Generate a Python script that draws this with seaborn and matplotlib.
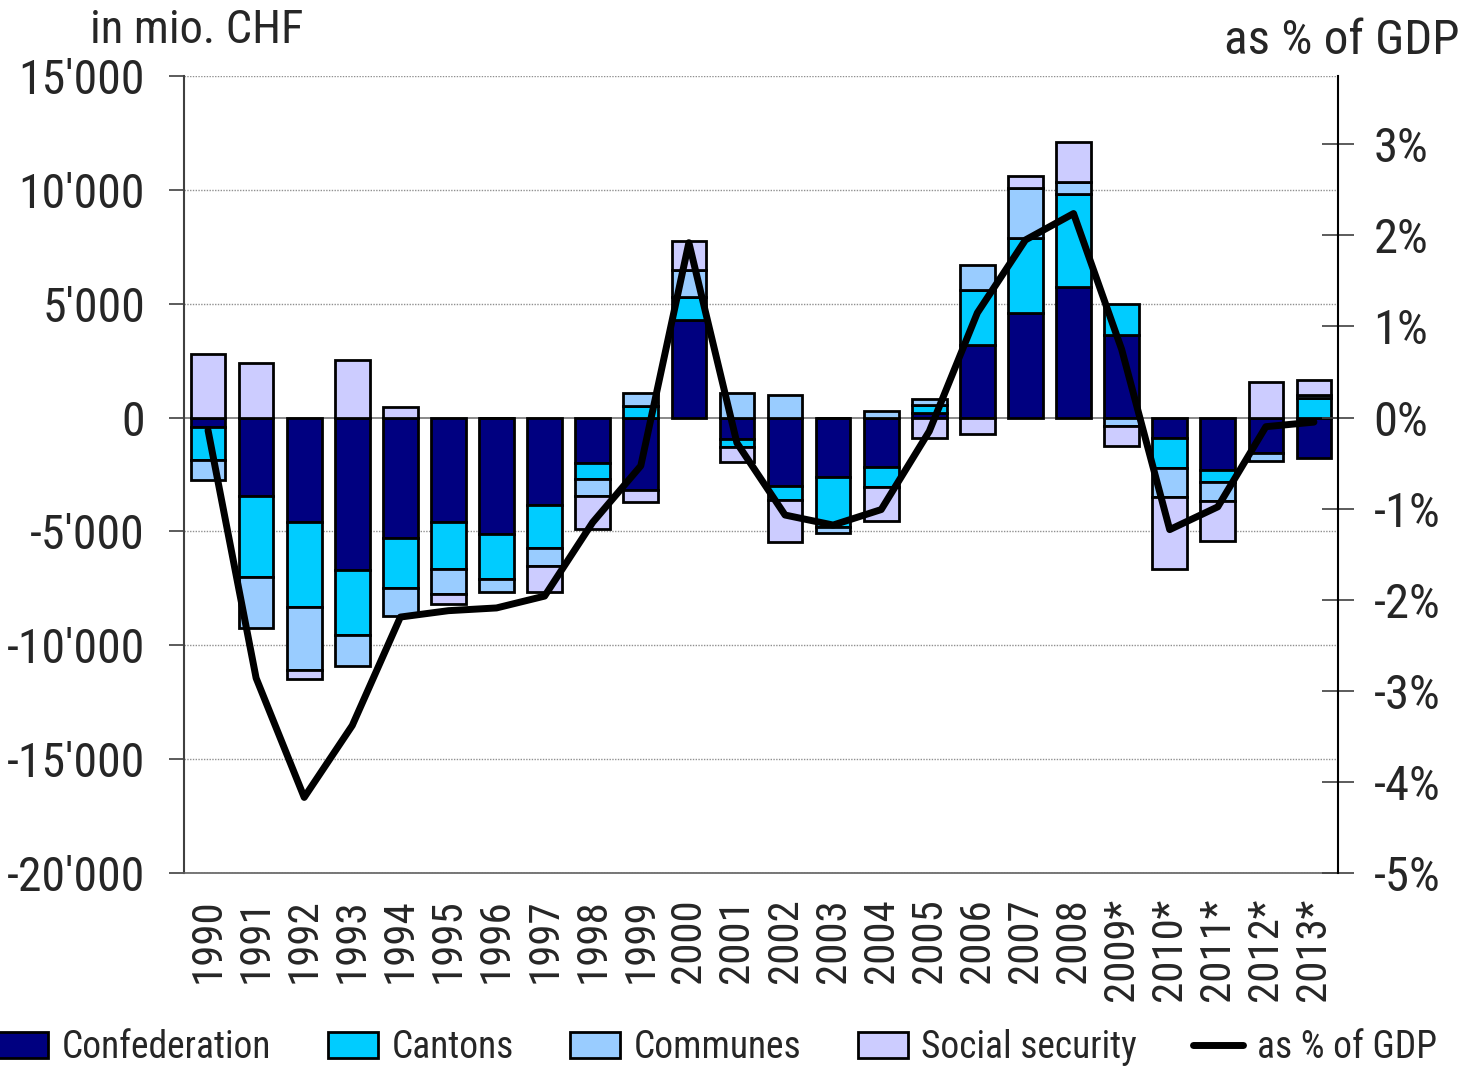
import matplotlib
matplotlib.use("Agg")
import matplotlib.pyplot as plt
from matplotlib import font_manager
from matplotlib.patches import Patch
from matplotlib.lines import Line2D
from matplotlib.ticker import FixedLocator, FuncFormatter
import numpy as np
import pandas as pd
import seaborn as sns

years = ["1990", "1991", "1992", "1993", "1994", "1995", "1996", "1997", "1998", "1999",
         "2000", "2001", "2002", "2003", "2004", "2005", "2006", "2007", "2008", "2009*",
         "2010*", "2011*", "2012*", "2013*"]
confederation = [-400, -3460, -4600, -6700, -5290, -4600, -5120, -3830, -1980, -3180,
                 4290, -950, -3000, -2610, -2150, 200, 3180, 4600, 5750, 3630,
                 -880, -2300, -1570, -1780]
cantons = [-1450, -3540, -3730, -2850, -2200, -2050, -1970, -1880, -730, 510,
           1020, -330, -620, -2190, -900, 350, 2440, 3300, 4090, 1350,
           -1320, -530, 0, 850]
communes = [-900, -2230, -2760, -1380, -1210, -1100, -550, -790, -730, 590,
            1150, 1070, 1000, -290, 290, 250, 1070, 2200, 510, -380,
            -1290, -830, -330, 150]
social_security = [2800, 2400, -370, 2530, 470, -450, 0, -1140, -1450, -540,
                   1300, -680, -1840, 0, -1490, -900, -730, 510, 1760, -880,
                   -3170, -1760, 1560, 640]
gdp_pct = [-0.14, -2.86, -4.17, -3.38, -2.19, -2.12, -2.09, -1.96, -1.15, -0.53,
           1.92, -0.28, -1.07, -1.18, -1.01, -0.15, 1.15, 1.95, 2.24, 0.75,
           -1.23, -0.98, -0.10, -0.05]

series_names = ["Confederation", "Cantons", "Communes", "Social security"]
series_vals = [confederation, cantons, communes, social_security]
colors = ["#000080", "#00CCFF", "#99CCFF", "#CCCCFF"]

sns.set_theme(style="white")

# look for a condensed / narrow sans font (the reference uses an Arial-Narrow-like face)
narrow = None
for f in font_manager.fontManager.ttflist:
    nm = (f.name + " " + f.fname).lower()
    if ("narrow" in nm or "condensed" in nm) and "bold" not in nm and "italic" not in nm \
            and "oblique" not in nm and "mono" not in nm and "serif" not in f.name.lower():
        pri = 0 if "liberation" in nm else (1 if "arial" in nm else (2 if "roboto" in nm else 3))
        if narrow is None or pri < narrow[0]:
            narrow = (pri, f)
if narrow is not None:
    fprop = narrow[1]
    plt.rcParams["font.family"] = [fprop.name, "DejaVu Sans"]
    plt.rcParams["font.stretch"] = fprop.stretch
    sc = 1.0
else:
    plt.rcParams["font.family"] = ["Liberation Sans", "DejaVu Sans"]
    sc = 0.84

fig = plt.figure(figsize=(14.74, 10.69), dpi=100)
ax = fig.add_axes([184 / 1474, 1 - 873 / 1069, (1338 - 184) / 1474, (873 - 76) / 1069])

x = np.arange(len(years))
pos_base = np.zeros(len(years))
neg_base = np.zeros(len(years))
for name, vals, col in zip(series_names, series_vals, colors):
    v = np.array(vals, dtype=float)
    bottoms = np.where(v >= 0, pos_base, neg_base)
    ax.bar(x, v, bottom=bottoms, width=0.72, color=col, edgecolor="black",
           linewidth=2.0, zorder=3)
    pos_base = pos_base + np.where(v > 0, v, 0)
    neg_base = neg_base + np.where(v < 0, v, 0)

ax.set_xlim(-0.5, len(years) - 0.5)
ax.set_ylim(-20000, 15000)
ax.yaxis.set_major_locator(FixedLocator(np.arange(-20000, 15001, 5000)))
ax.yaxis.set_major_formatter(FuncFormatter(lambda v, p: f"{v:,.0f}".replace(",", "'")))
for yv in np.arange(-20000, 15001, 5000):
    if yv == 0:
        ax.axhline(0, color="#808080", lw=1.3, zorder=2)
    else:
        ax.axhline(yv, color="#909090", lw=1.0, ls=(0, (1, 1)), zorder=1)
ax.set_xticks(x)
ax.set_xticklabels(years, rotation=90, fontsize=31 * sc)
ax.tick_params(axis="x", length=0, pad=18)
ax.tick_params(axis="y", direction="out", length=11, width=1.2, color="#404040",
               labelsize=34.5 * sc, pad=17, left=True)
ax.grid(False)
for s in ["top", "right"]:
    ax.spines[s].set_visible(False)
ax.spines["left"].set_color("#404040")
ax.spines["left"].set_linewidth(1.5)
ax.spines["bottom"].set_color("#606060")
ax.spines["bottom"].set_linewidth(1.2)

ax2 = ax.twinx()
df = pd.DataFrame({"x": x, "gdp": gdp_pct})
sns.lineplot(data=df, x="x", y="gdp", ax=ax2, color="black", lw=5, zorder=5,
             legend=False)
ax2.set_ylim(-5, 3.75)
ax2.set_xlim(-0.5, len(years) - 0.5)
ax2.yaxis.set_major_locator(FixedLocator(np.arange(-5, 4, 1)))
ax2.yaxis.set_major_formatter(FuncFormatter(lambda v, p: f"{int(round(v))}%"))
ax2.tick_params(axis="y", direction="inout", length=23, width=1.2, color="#404040",
                labelsize=35 * sc, pad=14, right=True)
ax2.set_ylabel("")
ax2.set_xlabel("")
ax.set_xlabel("")
ax.set_ylabel("")
ax2.grid(False)
for s in ["top", "left", "bottom"]:
    ax2.spines[s].set_visible(False)
ax2.spines["right"].set_color("black")
ax2.spines["right"].set_linewidth(1.5)

fig.text(90 / 1474, 1 - 8 / 1069, "in mio. CHF", fontsize=33.5 * sc, ha="left", va="top")
fig.text(1460 / 1474, 1 - 18 / 1069, "as % of GDP", fontsize=35.5 * sc, ha="right", va="top")

handles = [Patch(facecolor=c, edgecolor="black", linewidth=2.0) for c in colors]
handles.append(Line2D([0], [0], color="black", lw=5))
labels = series_names + ["as % of GDP"]
fig.legend(handles, labels, loc="center", bbox_to_anchor=(0.487, 0.02), ncol=5,
           frameon=False, fontsize=27 * sc, handlelength=1.33 / sc, handleheight=0.67 / sc,
           handletextpad=0.37 / sc, columnspacing=1.5 / sc, borderaxespad=0, borderpad=0)

fig.savefig("out.png", dpi=100)
